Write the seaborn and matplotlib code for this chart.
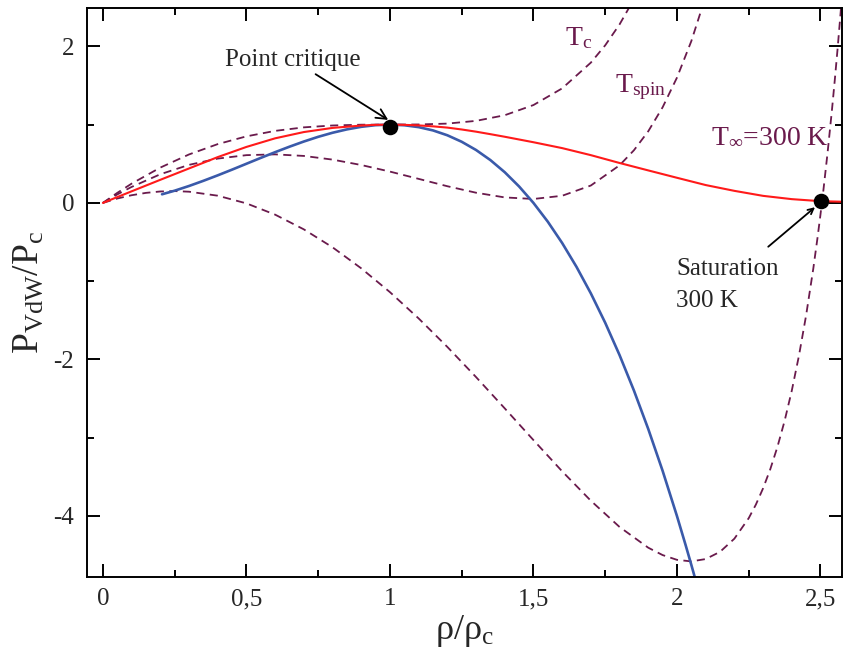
import numpy as np
import pandas as pd
import matplotlib
matplotlib.use('Agg')
import matplotlib.pyplot as plt
from matplotlib.ticker import MultipleLocator
import seaborn as sns

# isotherme critique T_c
tc_rho = [0, 0.05, 0.1, 0.2, 0.3, 0.4, 0.5, 0.6, 0.7, 0.8, 0.9, 1.0, 1.1, 1.2,
          1.3, 1.4, 1.5, 1.6, 1.7, 1.75, 1.8, 1.85]
tc_p = [0, 0.128, 0.246, 0.451, 0.619, 0.751, 0.85, 0.92, 0.965, 0.989, 0.999,
        1.0, 1.002, 1.013, 1.048, 1.12, 1.25, 1.463, 1.792, 2.013, 2.28, 2.602]

# isotherme T_spin
spin_rho = [0, 0.05, 0.1, 0.2, 0.3, 0.4, 0.5, 0.6, 0.7, 0.8, 0.9, 1.0, 1.1, 1.2,
            1.3, 1.4, 1.5, 1.6, 1.7, 1.8, 1.85, 1.9, 1.95, 2.0, 2.05, 2.1]
spin_p = [0, 0.108, 0.204, 0.366, 0.486, 0.566, 0.61, 0.62, 0.600, 0.553, 0.484,
          0.40, 0.307, 0.213, 0.13, 0.07, 0.05, 0.091, 0.222, 0.48, 0.672, 0.915,
          1.221, 1.6, 2.066, 2.637]

# isotherme T_inf = 300 K
tinf_rho = [0, 0.05, 0.1, 0.15, 0.2, 0.25, 0.3, 0.4, 0.5, 0.6, 0.7, 0.8, 0.9, 1.0,
            1.1, 1.2, 1.3, 1.4, 1.5, 1.6, 1.7, 1.8, 1.9, 1.95, 2.0, 2.05, 2.1,
            2.15, 2.2, 2.25, 2.275, 2.3, 2.325, 2.35, 2.375, 2.4, 2.425, 2.45,
            2.475, 2.49, 2.5, 2.51, 2.525, 2.54, 2.55, 2.56, 2.57, 2.58]
tinf_p = [0, 0.056, 0.098, 0.128, 0.146, 0.151, 0.143, 0.092, -0.006, -0.15,
          -0.338, -0.567, -0.836, -1.14, -1.476, -1.84, -2.225, -2.625, -3.03,
          -3.429, -3.805, -4.14, -4.405, -4.499, -4.56, -4.58, -4.55, -4.458,
          -4.29, -4.028, -3.854, -3.647, -3.404, -3.118, -2.786, -2.40, -1.953,
          -1.437, -0.84, -0.438, -0.15, 0.155, 0.648, 1.186, 1.573, 1.983,
          2.419, 2.88]

# spinodale (bleu)
spinodal_rho = [0.206, 0.25, 0.3, 0.35, 0.4, 0.45, 0.5, 0.55, 0.6, 0.65, 0.7,
                0.75, 0.8, 0.85, 0.9, 0.95, 1.0, 1.05, 1.1, 1.15, 1.2, 1.25, 1.3,
                1.35, 1.4, 1.45, 1.5, 1.55, 1.6, 1.65, 1.7, 1.75, 1.8, 1.85, 1.9,
                1.95, 2.0, 2.03, 2.05, 2.062]
spinodal_p = [0.110, 0.156, 0.216, 0.282, 0.352, 0.425, 0.50, 0.575, 0.648,
              0.718, 0.784, 0.844, 0.896, 0.939, 0.972, 0.993, 1.0, 0.992, 0.968,
              0.926, 0.864, 0.781, 0.676, 0.547, 0.392, 0.210, 0.0, -0.240,
              -0.512, -0.817, -1.156, -1.531, -1.944, -2.396, -2.888, -3.422,
              -4.0, -4.369, -4.623, -4.78]

# saturation (rouge)
sat_rho = [0, 0.1, 0.2, 0.3, 0.4, 0.5, 0.6, 0.7, 0.8, 0.9, 0.95, 1.0, 1.05, 1.1,
           1.15, 1.2, 1.25, 1.3, 1.35, 1.4, 1.5, 1.6, 1.7, 1.8, 1.9, 2.0, 2.1,
           2.2, 2.3, 2.4, 2.5, 2.575]
sat_p = [0, 0.148, 0.295, 0.44, 0.585, 0.715, 0.825, 0.905, 0.958, 0.988, 0.997,
         1.0, 0.997, 0.99, 0.978, 0.962, 0.938, 0.91, 0.878, 0.845, 0.775, 0.70,
         0.61, 0.51, 0.415, 0.321, 0.228, 0.154, 0.09, 0.048, 0.022, 0.015]

dots_rho = [1.0, 2.503]
dots_p = [0.97, 0.03]

x_ticks = [0, 0.5, 1, 1.5, 2, 2.5]
x_ticklabels = ['0', '0,5', '1', '1,5', '2', '2,5']
y_ticks = [-4, -2, 0, 2]
y_ticklabels = ['-4', '-2', '0', '2']

PURPLE = '#6a1a4c'
RED = '#ff1a1a'
BLUE = '#3a5aaa'

sns.set_style('ticks')
plt.rcParams['font.family'] = ['Liberation Serif', 'DejaVu Serif']
plt.rcParams['mathtext.fontset'] = 'custom'
plt.rcParams['mathtext.rm'] = 'Liberation Serif'
plt.rcParams['mathtext.it'] = 'Liberation Serif:italic'

fig, ax = plt.subplots(figsize=(8.43, 6.55), dpi=100)
fig.subplots_adjust(left=0.103, right=0.9988, top=0.9878, bottom=0.119)

dash = (0, (4.5, 3))
for xs, ys in [(tc_rho, tc_p), (spin_rho, spin_p), (tinf_rho, tinf_p)]:
    sns.lineplot(x=xs, y=ys, ax=ax, color=PURPLE, lw=1.3, linestyle=dash,
                 sort=False, estimator=None)
sns.lineplot(x=spinodal_rho, y=spinodal_p, ax=ax, color=BLUE, lw=1.9,
             sort=False, estimator=None)
sns.lineplot(x=sat_rho, y=sat_p, ax=ax, color=RED, lw=1.5,
             sort=False, estimator=None)
sns.scatterplot(x=dots_rho, y=dots_p, ax=ax, color='black', s=125,
                edgecolor='black', linewidth=0, zorder=10)

ax.set_xlim(-0.056, 2.575)
ax.set_ylim(-4.78, 2.49)
ax.set_xticks(x_ticks)
ax.set_xticklabels(x_ticklabels)
ax.set_yticks(y_ticks)
ax.set_yticklabels(y_ticklabels)
ax.xaxis.set_minor_locator(MultipleLocator(0.25))
ax.yaxis.set_minor_locator(MultipleLocator(1))
ax.tick_params(which='both', direction='in', top=True, right=True, width=1.4,
               color='black')
ax.tick_params(which='major', length=9.5, labelsize=18)
ax.tick_params(which='minor', length=5)
ax.tick_params(axis='x', pad=8)
ax.tick_params(axis='y', pad=9)
for sp in ax.spines.values():
    sp.set_linewidth(1.4)
    sp.set_color('black')

ax.set_xlabel(r'$\mathrm{ρ/ρ_c}$', fontsize=26, labelpad=2)
ax.set_ylabel(r'$\mathrm{P_{VdW}/P_c}$', fontsize=27, labelpad=6)

ax.text(1.61, 2.02, r'$\mathrm{T_c}$', color=PURPLE, fontsize=20, va='baseline')
ax.text(1.785, 1.42, r'$\mathrm{T_{spin}}$', color=PURPLE, fontsize=20, va='baseline')
ax.text(2.12, 0.77, r'$\mathrm{T_{∞}}$=300 K', color=PURPLE, fontsize=20,
        va='baseline')

ax.annotate('Point critique', xy=(0.994, 1.06), xytext=(0.662, 1.75),
            fontsize=18, ha='center', va='baseline',
            arrowprops=dict(arrowstyle='->', color='black', lw=1.3,
                            shrinkA=0, shrinkB=0))
ax.annotate('', xy=(2.481, -0.055), xytext=(2.318, -0.56),
            arrowprops=dict(arrowstyle='->', color='black', lw=1.3,
                            shrinkA=0, shrinkB=0))
ax.text(1.997, -0.92, 'Saturation', fontsize=18, va='baseline')
ax.text(1.997, -1.33, '300 K', fontsize=18, va='baseline')

fig.savefig('out.png', dpi=100)
